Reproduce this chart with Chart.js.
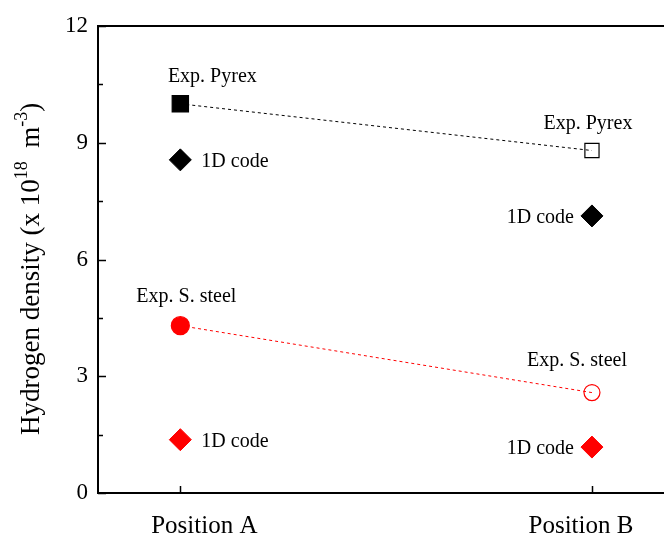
<!DOCTYPE html>
<html>
<head>
<meta charset="utf-8">
<script src="https://cdn.jsdelivr.net/npm/chart.js@4"></script>
<style>
  html, body { margin: 0; padding: 0; background: #fff; overflow: hidden; }
</style>
</head>
<body>
<canvas id="chart" width="664" height="536"></canvas>
<script>
// Data
const positions = ["Position A", "Position B"];
const pyrexExp = [10.0, 8.8];
const pyrexCode = [8.56, 7.12];
const steelExp = [4.3, 2.58];
const steelCode = [1.37, 1.18];
const yTicks = [0, 3, 6, 9, 12];
const yMinorTicks = [1.5, 4.5, 7.5, 10.5];

const expPyrexLabel = "Exp. Pyrex";
const expSteelLabel = "Exp. S. steel";
const codeLabel = "1D code";

const FONT = "'Liberation Serif', 'Times New Roman', serif";
const toPoints = arr => arr.map((v, i) => ({ x: i + 1, y: v }));

// axis frame, inward ticks, y title, category and point labels
const decor = {
  id: "decor",
  afterDraw(chart) {
    const { ctx, chartArea: a, scales: { x, y } } = chart;
    ctx.save();
    ctx.strokeStyle = "#000";
    ctx.lineWidth = 2;
    ctx.beginPath();
    ctx.moveTo(a.left, a.top);
    ctx.lineTo(a.right, a.top);
    ctx.stroke();

    ctx.lineWidth = 1.5;
    ctx.beginPath();
    yTicks.forEach(v => {
      const py = Math.round(y.getPixelForValue(v)) + 0.5;
      ctx.moveTo(a.left, py);
      ctx.lineTo(a.left + 8, py);
    });
    yMinorTicks.forEach(v => {
      const py = Math.round(y.getPixelForValue(v)) + 0.5;
      ctx.moveTo(a.left, py);
      ctx.lineTo(a.left + 5, py);
    });
    positions.forEach((p, i) => {
      const px = Math.round(x.getPixelForValue(i + 1)) + 0.5;
      ctx.moveTo(px, a.bottom);
      ctx.lineTo(px, a.bottom - 7);
    });
    ctx.stroke();

    // category labels (slightly off-centre in the original)
    ctx.fillStyle = "#000";
    ctx.font = "25px " + FONT;
    ctx.textAlign = "center";
    ctx.textBaseline = "alphabetic";
    const shift = [24, -11];
    positions.forEach((p, i) => {
      ctx.fillText(p, x.getPixelForValue(i + 1) + shift[i], a.bottom + 40);
    });

    // y axis title with superscripts
    ctx.save();
    ctx.translate(32, 435);
    ctx.rotate(-Math.PI / 2);
    ctx.textBaseline = "middle";
    ctx.textAlign = "left";
    let cx = 0;
    const part = (t, size, dy) => {
      ctx.font = size + "px " + FONT;
      ctx.fillText(t, cx, dy);
      cx += ctx.measureText(t).width;
    };
    part("Hydrogen density (x 10", 27, 0);
    part("18", 18, -10);
    part("  m", 27, 0);
    part("-3", 18, -10);
    part(")", 27, 0);
    ctx.restore();

    // point annotations
    ctx.font = "20px " + FONT;
    ctx.textBaseline = "alphabetic";
    const at = (txt, v, i, dx, dy, align) => {
      ctx.textAlign = align;
      ctx.fillText(txt, x.getPixelForValue(i + 1) + dx, y.getPixelForValue(v) + dy);
    };
    at(expPyrexLabel, pyrexExp[0], 0, 32, -22, "center");
    at(expPyrexLabel, pyrexExp[1], 1, -4, -22, "center");
    at(codeLabel, pyrexCode[0], 0, 21, 7, "left");
    at(codeLabel, pyrexCode[1], 1, -18, 7, "right");
    at(expSteelLabel, steelExp[0], 0, 6, -24, "center");
    at(expSteelLabel, steelExp[1], 1, -15, -27, "center");
    at(codeLabel, steelCode[0], 0, 21, 7, "left");
    at(codeLabel, steelCode[1], 1, -18, 7, "right");
    ctx.restore();
  }
};

new Chart(document.getElementById("chart"), {
  type: "scatter",
  data: {
    datasets: [
      {
        data: toPoints(pyrexExp),
        showLine: true,
        borderColor: "#000",
        borderWidth: 1,
        borderDash: [3, 3],
        pointStyle: "rect",
        pointRadius: [11.5, 10],
        pointBackgroundColor: ["#000", "rgba(0,0,0,0)"],
        pointBorderColor: "#000",
        pointBorderWidth: 1.2
      },
      {
        data: toPoints(pyrexCode),
        showLine: false,
        pointStyle: "rectRot",
        pointRadius: 11,
        pointBackgroundColor: "#000",
        pointBorderColor: "#000",
        pointBorderWidth: 1
      },
      {
        data: toPoints(steelExp),
        showLine: true,
        borderColor: "#ff0000",
        borderWidth: 1,
        borderDash: [3, 3],
        pointStyle: "circle",
        pointRadius: [9, 8],
        pointBackgroundColor: ["#ff0000", "rgba(0,0,0,0)"],
        pointBorderColor: "#ff0000",
        pointBorderWidth: 1.2
      },
      {
        data: toPoints(steelCode),
        showLine: false,
        pointStyle: "rectRot",
        pointRadius: 11,
        pointBackgroundColor: "#ff0000",
        pointBorderColor: "#ff0000",
        pointBorderWidth: 1
      }
    ]
  },
  options: {
    responsive: false,
    animation: false,
    layout: { autoPadding: false, padding: { top: 26, right: 0, left: 0, bottom: 0 } },
    plugins: { legend: { display: false }, tooltip: { enabled: false } },
    scales: {
      x: {
        type: "linear",
        min: 0.8,
        max: 2.175,
        afterBuildTicks: s => { s.ticks = positions.map((p, i) => ({ value: i + 1 })); },
        afterFit: s => { s.height = 43; s.paddingLeft = 0; s.paddingRight = 0; },
        grid: { display: false, drawTicks: false },
        border: { display: true, color: "#000", width: 2 },
        ticks: { display: false }
      },
      y: {
        min: 0,
        max: 12,
        afterBuildTicks: s => { s.ticks = yTicks.map(v => ({ value: v })); },
        afterFit: s => { s.width = 98; s.paddingTop = 0; s.paddingBottom = 0; },
        grid: { display: false, drawTicks: false },
        border: { display: true, color: "#000", width: 2 },
        ticks: {
          padding: 10,
          color: "#000",
          font: { family: FONT, size: 23 }
        }
      }
    }
  },
  plugins: [decor]
});
</script>
</body>
</html>
